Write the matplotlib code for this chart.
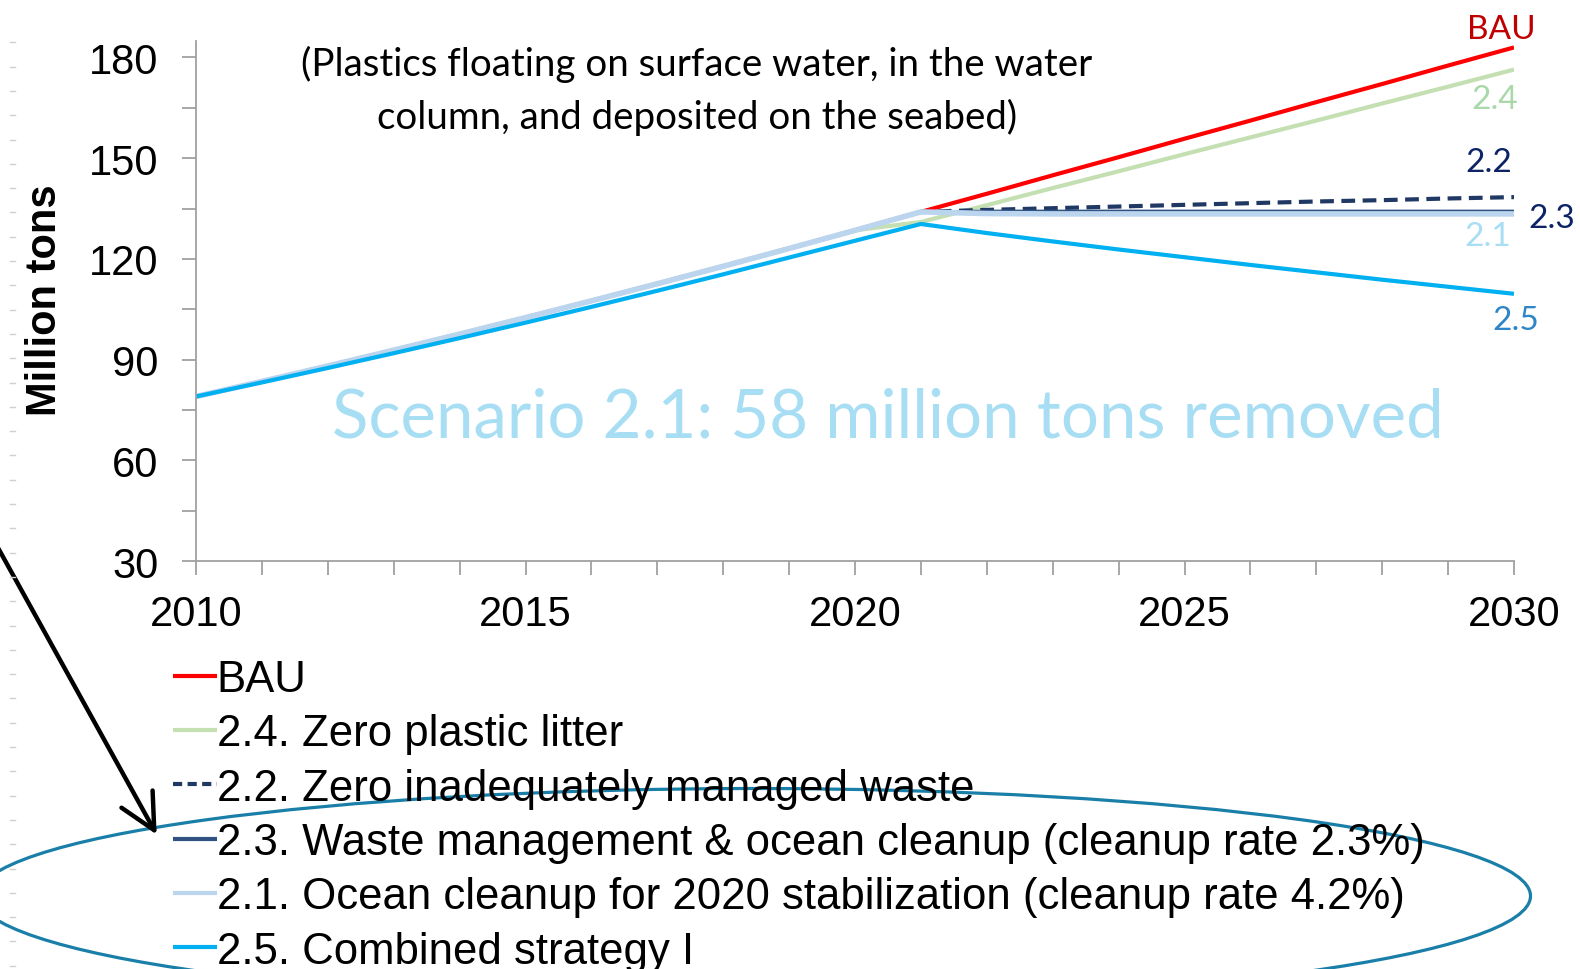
import numpy as np
import matplotlib
matplotlib.use("Agg")
import matplotlib.pyplot as plt
from matplotlib.patches import Ellipse, FancyArrowPatch
from matplotlib.lines import Line2D

# Data (million tons)
years = list(range(2010, 2031))
bau = [79, 83.5, 88.1, 92.8, 97.6, 102.5, 107.5, 112.6, 117.8, 123.1, 128.5, 134.0,
       139.4, 144.9, 150.3, 155.8, 161.2, 166.7, 172.1, 177.6, 183.0]
s24 = [79, 83.5, 88.1, 92.8, 97.6, 102.5, 107.5, 112.6, 117.8, 123.1, 128.5, 131.0,
       136.0, 141.1, 146.1, 151.2, 156.2, 161.2, 166.3, 171.3, 176.4]
s22 = [79, 83.5, 88.1, 92.8, 97.6, 102.5, 107.5, 112.6, 117.8, 123.1, 128.5, 134.0,
       134.6, 135.1, 135.6, 136.1, 136.6, 137.1, 137.5, 138.0, 138.4]
s23 = [79, 83.5, 88.1, 92.8, 97.6, 102.5, 107.5, 112.6, 117.8, 123.1, 128.5, 134.0,
       134.3, 134.3, 134.3, 134.3, 134.3, 134.3, 134.3, 134.3, 134.3]
s21 = [79, 83.5, 88.1, 92.8, 97.6, 102.5, 107.5, 112.6, 117.8, 123.1, 128.5, 134.0,
       133.5, 133.4, 133.4, 133.4, 133.4, 133.4, 133.4, 133.4, 133.4]
s25 = [79, 83.2, 87.5, 91.9, 96.4, 101.0, 105.7, 110.5, 115.4, 120.4, 125.4, 130.4,
       127.7, 125.2, 122.8, 120.5, 118.2, 116.0, 113.8, 111.7, 109.6]

labels = ["BAU",
          "2.4. Zero plastic litter",
          "2.2. Zero inadequately managed waste",
          "2.3. Waste management & ocean cleanup (cleanup rate 2.3%)",
          "2.1. Ocean cleanup for 2020 stabilization (cleanup rate 4.2%)",
          "2.5. Combined strategy I"]
short = ["BAU", "2.4", "2.2", "2.3", "2.1", "2.5"]
series = [bau, s24, s22, s23, s21, s25]
colors = ["#ff0000", "#c4dfb2", "#203864", "#2f5283", "#bcd5ee", "#00b0f0"]
label_colors = ["#c00000", "#a9d8a9", "#0d2366", "#0d2366", "#a8def4", "#2e86c8"]
label_offsets = [(-9, 13), (-14, -21), (-18, 25), (27, -5), (-19, -16), (1, -19)]

W, H = 1580, 970
fig = plt.figure(figsize=(W / 100, H / 100), dpi=100)
ax = fig.add_axes([196 / W, 1 - 562 / H, (1514 - 196) / W, (562 - 41.7) / H])

anno_font = "Lato"

styles = [dict(lw=3.0), dict(lw=3.0), dict(lw=3.0, ls=(0, (3.3, 1.8))),
          dict(lw=1.8), dict(lw=4.0), dict(lw=3.0)]
for vals, c, st, lab in zip(series, colors, styles, labels):
    ax.plot(years, vals, color=c, label=lab, solid_capstyle="butt", **st)

ax.set_xlim(2010, 2030)
ax.set_ylim(30, 185)
ax.set_xticks([2010, 2015, 2020, 2025, 2030])
ax.set_xticks(years, minor=True)
ax.set_yticks(range(30, 181, 30))
ax.set_yticks(range(45, 181, 30), minor=True)
for s in ["top", "right"]:
    ax.spines[s].set_visible(False)
for s in ["left", "bottom"]:
    ax.spines[s].set_color("#a0a0a0")
    ax.spines[s].set_linewidth(1.3)
ax.tick_params(axis="both", which="both", direction="out", color="#a0a0a0",
               width=1.3, length=10, labelsize=30)
ax.tick_params(axis="x", which="major", pad=14)
ax.tick_params(axis="y", which="major", pad=17)
for t in ax.get_xticklabels() + ax.get_yticklabels():
    t.set_fontfamily("Liberation Sans")

# End-of-line labels
for vals, txt, col, off in zip(series, short, label_colors, label_offsets):
    ax.annotate(txt, xy=(years[-1], vals[-1]), xytext=off, textcoords="offset points",
                ha="center", va="center", color=col, fontsize=24,
                fontfamily=anno_font, annotation_clip=False)

fig.text(45 / W, 1 - 300 / H, "Million tons", rotation=90, ha="center", va="center",
         fontsize=30, fontweight="bold", fontfamily="Liberation Sans")

title = fig.text(697 / W, 1 - 91 / H,
                 "(Plastics floating on surface water, in the water\ncolumn, and deposited on the seabed)",
                 ha="center", va="center", fontsize=26, fontfamily=anno_font,
                 linespacing=1.5, color="black")
scen = fig.text(888 / W, 1 - 419 / H, "Scenario 2.1: 58 million tons removed",
                ha="center", va="center", fontsize=48, fontfamily=anno_font,
                color="#a8def4")

leg = fig.legend(loc="upper left", bbox_to_anchor=(173 / W, 1 - 660 / H),
                 frameon=False, prop={"family": "Liberation Sans", "size": 31.5},
                 handlelength=1.0, handletextpad=0.0, labelspacing=0.305,
                 borderpad=0, borderaxespad=0)
for hl in leg.get_lines():
    hl.set_linewidth(3.0)
leg.get_lines()[2].set_linestyle((0, (2.2, 1.3)))

# Scale annotation fonts so text widths match the reference
fig.canvas.draw()
for txt, target in [(title, 789), (scen, 1111)]:
    w = txt.get_window_extent().width
    txt.set_fontsize(txt.get_fontsize() * target / w)

# Ellipse and arrow overlay
ell = Ellipse((754 / W, 1 - 897 / H), 1553 / W, 215 / H, transform=fig.transFigure,
              fill=False, edgecolor="#1a7fa8", lw=2.3)
fig.add_artist(ell)
arr = FancyArrowPatch((-3 / W, 1 - 547 / H), (158 / W, 1 - 838 / H),
                      transform=fig.transFigure, arrowstyle="->,head_length=16,head_width=8",
                      color="black", lw=3.2, mutation_scale=1.6)
fig.add_artist(arr)

# faint ruler ticks along the left edge
for y in np.arange(43.3, H, 24.3):
    fig.add_artist(Line2D([10 / W, 15 / W], [1 - y / H, 1 - y / H],
                          transform=fig.transFigure, color="#d0d0d0", lw=1))

fig.savefig("out.png", dpi=100)
